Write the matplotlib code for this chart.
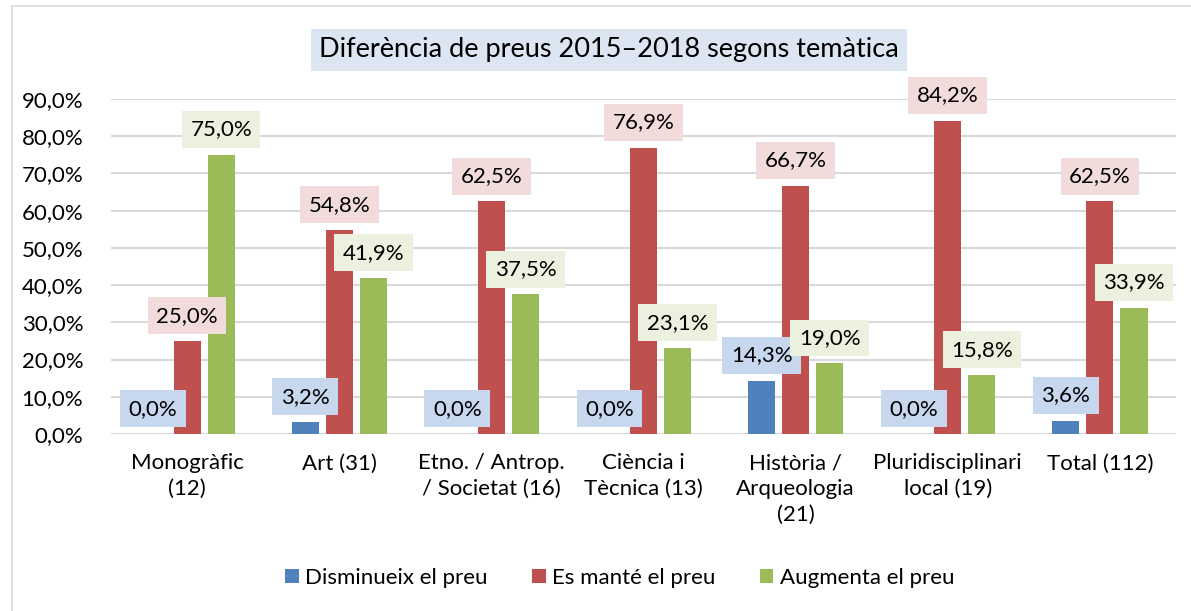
import matplotlib
matplotlib.use("Agg")
import matplotlib.pyplot as plt
import numpy as np
from matplotlib.patches import Rectangle

plt.rcParams['font.family'] = ['Lato', 'DejaVu Sans']

categories = ["Monogràfic\n(12)", "Art (31)", "Etno. / Antrop.\n/ Societat (16)",
              "Ciència i\nTècnica (13)", "Història /\nArqueologia\n(21)",
              "Pluridisciplinari\nlocal (19)", "Total (112)"]
series_names = ["Disminueix el preu", "Es manté el preu", "Augmenta el preu"]
disminueix = [0.0, 3.2, 0.0, 0.0, 14.3, 0.0, 3.6]
mante = [25.0, 54.8, 62.5, 76.9, 66.7, 84.2, 62.5]
augmenta = [75.0, 41.9, 37.5, 23.1, 19.0, 15.8, 33.9]
yticks = [0, 10, 20, 30, 40, 50, 60, 70, 80, 90]

colors = ["#4F81BD", "#C0504D", "#9BBB59"]
box_colors = ["#C6D7EE", "#F2DCDB", "#EBF1DE"]

W, H = 1191, 611
fig = plt.figure(figsize=(W/100, H/100), dpi=100)
fig.patches.append(Rectangle((12/W, -0.01), 1.0, 1.0, transform=fig.transFigure,
                             fill=False, edgecolor="#D9D9D9", linewidth=1.2))
ax = fig.add_axes([111/W, 1-434/H, (1176-111)/W, (434-99)/H])

x = np.arange(len(categories))
bw = 0.178
step = 0.224
data = [disminueix, mante, augmenta]
for i, (vals, c, bc, name) in enumerate(zip(data, colors, box_colors, series_names)):
    xs = x + (i-1)*step
    ax.bar(xs, vals, width=bw, color=c, label=name, zorder=3)
    for xx, v in zip(xs, vals):
        ax.annotate(f"{v:.1f}%".replace(".", ","), (xx, v), xytext=(0, 11),
                    textcoords="offset points", ha="center", va="bottom",
                    fontsize=16, color="#000000", zorder=5, annotation_clip=False,
                    bbox=dict(boxstyle="square,pad=0.38", fc=bc, ec="none"))

ax.set_xlim(-0.5, len(categories)-0.5)
ax.set_ylim(0, 90)
ax.set_yticks(yticks)
ax.set_yticklabels([f"{t:.1f}%".replace(".", ",") for t in yticks], fontsize=16)
ax.set_xticks(x)
ax.set_xticklabels(categories, fontsize=16, linespacing=1.35, va="top")
ax.tick_params(axis="both", length=0)
ax.tick_params(axis="x", pad=14)
ax.tick_params(axis="y", pad=20)
ax.grid(axis="y", color="#D9D9D9", linewidth=1.5, zorder=0)
for s in ax.spines.values():
    s.set_visible(False)

fig.text(609/W, 1-50/H, "Diferència de preus 2015–2018 segons temàtica",
         ha="center", va="center", fontsize=19.5,
         bbox=dict(boxstyle="square,pad=0.3", fc="#DCE6F2", ec="none"))

fig.legend(loc="center", bbox_to_anchor=(620/W, 1-578/H), ncol=3, frameon=False,
           fontsize=16, handlelength=0.6, handleheight=0.6, columnspacing=2.0,
           handletextpad=0.3)

fig.savefig("out.png", dpi=100)
